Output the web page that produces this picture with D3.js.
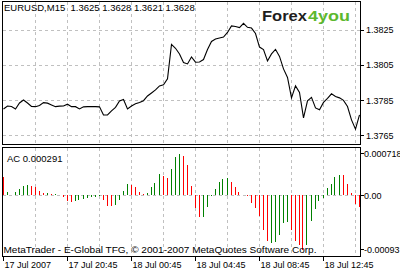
<!DOCTYPE html>
<html><head><meta charset="utf-8">
<script src="https://cdn.jsdelivr.net/npm/d3@7"></script>
<style>
body{margin:0;background:#fff}
svg{display:block}
text{font-family:"Liberation Sans",Arial,sans-serif;fill:#000}
</style>
</head><body><div id="chart"></div>
<script>
const titleText = "EURUSD,M15  1.3625 1.3628 1.3621 1.3628";
const acTitle = "AC 0.000291";
const footerText = "MetaTrader - E-Global TFG, \u00A9 2001-2007 MetaQuotes Software Corp.";
const logoDark = "Forex";
const logoGreen = "4you";

const timeTickIndex = [0, 16, 32, 48, 64, 80];
const timeTickLabels = ["17 Jul 2007", "17 Jul 20:45", "18 Jul 00:45", "18 Jul 04:45", "18 Jul 08:45", "18 Jul 12:45"];
const gridIndex = [8, 16, 24, 32, 40, 48, 56, 64, 72, 80, 88];

const priceTicks = [1.3765, 1.3785, 1.3805, 1.3825];
const priceTickLabels = ["1.3765", "1.3785", "1.3805", "1.3825"];

const closes = [
 1.37801,1.37818,1.37815,1.37801,1.37835,1.37852,1.37835,1.37815,1.37814,1.37821,
 1.37837,1.37834,1.37824,1.37814,1.37817,1.37818,1.37828,1.37814,1.37814,1.37801,
 1.37813,1.37814,1.37814,1.37814,1.37813,1.37767,1.37767,1.37790,1.37810,1.37847,
 1.37855,1.37801,1.37818,1.37830,1.37838,1.37848,1.37875,1.37892,1.37909,1.37932,
 1.37938,1.37972,1.38168,1.38146,1.38114,1.38065,1.38057,1.38097,1.38067,1.38068,
 1.38082,1.38139,1.38185,1.38199,1.38205,1.38210,1.38236,1.38273,1.38270,1.38264,
 1.38288,1.38265,1.38261,1.38230,1.38153,1.38139,1.38074,1.38114,1.38140,1.38100,
 1.38029,1.37980,1.37864,1.37932,1.37895,1.37750,1.37847,1.37867,1.37807,1.37796,
 1.37838,1.37861,1.37887,1.37872,1.37864,1.37850,1.37815,1.37739,1.37686,1.37767
];

const acValues = [
 0.000308,0.000051,0.000012,0.000051,0.000115,0.000166,0.000170,0.000154,0.000142,0.000080,
 0.000039,0.000046,0.000029,0.000022,0.000012,-0.000029,-0.000091,-0.000115,-0.000103,-0.000074,
 -0.000063,-0.000046,-0.000034,-0.000029,-0.000017,-0.000074,-0.000176,-0.000188,-0.000159,-0.000074,
 0.000080,0.000193,0.000171,0.000137,0.000051,0.000029,0.000039,0.000137,0.000210,0.000359,
 0.000337,0.000291,0.000457,0.000662,0.000718,0.000667,0.000513,0.000166,-0.000210,-0.000376,
 -0.000364,-0.000193,-0.000005,0.000108,0.000222,0.000279,0.000303,0.000222,0.000137,0.000051,
 0.000012,-0.000017,-0.000125,-0.000222,-0.000347,-0.000593,-0.000792,-0.000821,-0.000800,-0.000679,
 -0.000479,-0.000462,-0.000593,-0.000792,-0.000850,-0.000930,-0.000850,-0.000448,-0.000227,-0.000103,
 -0.000051,0.000125,0.000200,0.000313,0.000354,0.000342,0.000200,0.000039,-0.000142,-0.000200
];
// bar direction as seen: u = green (rising), d = red (falling)
const acDirections = [
 "d","u","d","u","u","u","u","d","d","d",
 "d","u","d","u","d","d","d","d","u","u",
 "u","u","u","u","u","d","d","d","u","u",
 "u","u","d","d","d","d","u","u","u","u",
 "d","d","u","u","u","d","d","d","d","d",
 "u","u","u","u","u","u","u","d","d","d",
 "d","d","d","d","d","d","d","u","u","u",
 "u","u","d","d","d","d","u","u","u","u",
 "u","u","u","u","u","d","d","d","d","d"
];
const acTicks = [0.000718, 0, -0.00093];
const acTickLabels = ["0.000718", "0.00", "-0.00093"];

const W = 400, H = 274;
const svg = d3.select("#chart").append("svg").attr("width", W).attr("height", H);

const x = d3.scaleLinear().domain([0, closes.length - 1]).range([3, 359]);
const yP = d3.scaleLinear().domain([1.3765, 1.3825]).range([135.5, 30]);
const yA = d3.scaleLinear().domain([-0.00093, 0.000718]).range([249.5, 153.5]);

const px = v => Math.floor(v) + 0.5;
const grid = "#c0c0c0";

const upper = {top: 1.5, bottom: 144.5};
const lower = {top: 147.5, bottom: 256.5};
const left = 2.5, right = 360.5;

// grids
[upper, lower].forEach(p => {
  svg.append("g").selectAll("line").data(gridIndex).join("line")
    .attr("x1", d => px(x(d))).attr("x2", d => px(x(d)))
    .attr("y1", p.top).attr("y2", p.bottom)
    .attr("stroke", grid).attr("stroke-dasharray", "3,3").attr("shape-rendering", "crispEdges");
});
svg.append("g").selectAll("line").data(priceTicks).join("line")
  .attr("x1", left).attr("x2", right)
  .attr("y1", d => px(yP(d))).attr("y2", d => px(yP(d)))
  .attr("stroke", grid).attr("stroke-dasharray", "3,3").attr("shape-rendering", "crispEdges");
svg.append("line").attr("x1", left).attr("x2", right)
  .attr("y1", px(yA(0))).attr("y2", px(yA(0)))
  .attr("stroke", grid).attr("stroke-dasharray", "3,3").attr("shape-rendering", "crispEdges");

// price line
svg.append("path").datum(closes)
  .attr("d", d3.line().x((d, i) => x(i) + 0.5).y(d => yP(d)))
  .attr("fill", "none").attr("stroke", "#000").attr("stroke-width", 1.1);

// AC histogram
svg.append("g").selectAll("line").data(acValues).join("line")
  .attr("x1", (d, i) => px(x(i))).attr("x2", (d, i) => px(x(i)))
  .attr("y1", yA(0)).attr("y2", d => yA(d))
  .attr("stroke", (d, i) => acDirections[i] === "u" ? "#008000" : "#ff0000")
  .attr("stroke-width", 1).attr("shape-rendering", "crispEdges");

// panel borders
[upper, lower].forEach(p => {
  svg.append("rect").attr("x", left).attr("y", p.top)
    .attr("width", right - left).attr("height", p.bottom - p.top)
    .attr("fill", "none").attr("stroke", "#000").attr("shape-rendering", "crispEdges");
});

// price axis
const pa = svg.append("g");
pa.selectAll("line").data(priceTicks).join("line")
  .attr("x1", right).attr("x2", right + 3)
  .attr("y1", d => px(yP(d))).attr("y2", d => px(yP(d)))
  .attr("stroke", "#000").attr("shape-rendering", "crispEdges");
pa.selectAll("text").data(priceTicks).join("text")
  .attr("x", 366).attr("y", d => yP(d) + 3.3)
  .attr("font-size", 9).text((d, i) => priceTickLabels[i]);

// AC axis
const aa = svg.append("g");
aa.selectAll("line").data(acTicks).join("line")
  .attr("x1", right).attr("x2", right + 3)
  .attr("y1", d => px(yA(d))).attr("y2", d => px(yA(d)))
  .attr("stroke", "#000").attr("shape-rendering", "crispEdges");
aa.selectAll("text").data(acTicks).join("text")
  .attr("x", 364).attr("y", d => yA(d) + 3.3)
  .attr("font-size", 9).text((d, i) => acTickLabels[i]);

// time axis
const ta = svg.append("g");
ta.selectAll("line").data(timeTickIndex).join("line")
  .attr("x1", d => px(x(d))).attr("x2", d => px(x(d)))
  .attr("y1", lower.bottom).attr("y2", lower.bottom + 4)
  .attr("stroke", "#000").attr("shape-rendering", "crispEdges");
ta.selectAll("text").data(timeTickIndex).join("text")
  .attr("x", d => x(d) + 1.5).attr("y", 268)
  .attr("font-size", 9).text((d, i) => timeTickLabels[i]);

// texts
svg.append("text").attr("x", 4).attr("y", 11).attr("font-size", 9.5).attr("xml:space", "preserve")
  .style("white-space", "pre").text(titleText);
svg.append("text").attr("x", 7).attr("y", 162).attr("font-size", 9.5).text(acTitle);
svg.append("text").attr("x", 3.5).attr("y", 252.5).attr("font-size", 9.8)
  .attr("textLength", 313).attr("lengthAdjust", "spacingAndGlyphs").text(footerText);

// logo
svg.append("text").attr("x", 262).attr("y", 21).attr("font-size", 14).attr("font-weight", "bold")
  .attr("textLength", 45).attr("lengthAdjust", "spacingAndGlyphs")
  .style("fill", "#1e1e1e").text(logoDark);
svg.append("text").attr("x", 308).attr("y", 21).attr("font-size", 14).attr("font-weight", "bold")
  .attr("textLength", 42).attr("lengthAdjust", "spacingAndGlyphs")
  .style("fill", "#5cb82e").text(logoGreen);
</script>
</body></html>
